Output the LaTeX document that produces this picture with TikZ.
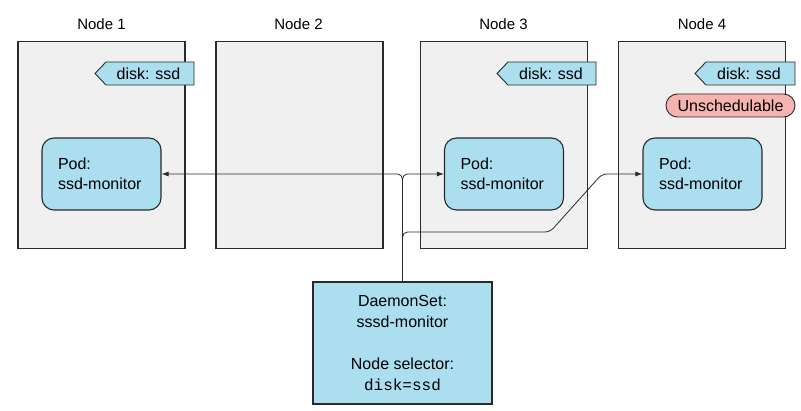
\documentclass[tikz,border=0pt]{standalone}
\usepackage{fontspec}
\setmainfont{Liberation Sans}
\setmonofont{Liberation Mono}
\usetikzlibrary{arrows.meta}
\definecolor{nodegray}{HTML}{F0F0F0}
\definecolor{podblue}{HTML}{ABDFF0}
\definecolor{pinkfill}{HTML}{F6B4B0}
\definecolor{edgecol}{HTML}{2A2A2A}
\begin{document}
\begin{tikzpicture}[x=1pt,y=-1pt,
  font=\fontsize{16}{20}\selectfont,
  machine/.style={draw=edgecol, line width=1.1pt, fill=nodegray, minimum width=167pt, minimum height=207pt, inner sep=0pt},
  title/.style={inner sep=0pt, font=\fontsize{15}{18}\selectfont},
  tagshape/.style={draw=edgecol, line width=0.9pt, fill=podblue},
  tagtext/.style={inner sep=0pt},
  podbox/.style={draw=edgecol, line width=1.1pt, fill=podblue, rounded corners=12pt, minimum width=119pt, minimum height=72pt, text width=87pt, align=left, inner xsep=16pt},
  unsched/.style={draw=edgecol, line width=0.9pt, fill=pinkfill, rounded corners=11.5pt, minimum width=129pt, minimum height=23pt, inner sep=0pt},
  dsbox/.style={draw=edgecol, line width=1.1pt, fill=podblue, minimum width=179pt, minimum height=122pt, align=center, inner sep=0pt, font=\fontsize{16}{21}\selectfont},
  conn/.style={draw=edgecol, line width=0.8pt, rounded corners=5pt},
  arr/.style={conn, -{Latex[length=7pt,width=5pt]}}
]
\useasboundingbox (0,0) rectangle (801,411);

% machines
\node[machine] (n1) at (101.5,145) {};
\node[machine] (n2) at (299.5,145) {};
\node[machine] (n3) at (504,145) {};
\node[machine] (n4) at (702,145) {};

\node[title] (t1) at (101.5,24) {Node 1};
\node[title] (t2) at (298.5,24) {Node 2};
\node[title] (t3) at (503.5,24) {Node 3};
\node[title] (t4) at (702,24) {Node 4};

% tags
\draw[tagshape] (95,73.5) -- (106,62) -- (194,62) -- (194,85) -- (106,85) -- cycle;
\node[tagtext] (g1) at (148.5,73.5) {disk: ssd};
\draw[tagshape] (497,73.5) -- (508,62) -- (596,62) -- (596,85) -- (508,85) -- cycle;
\node[tagtext] (g3) at (551,73.5) {disk: ssd};
\draw[tagshape] (695,73.5) -- (706,62) -- (795,62) -- (795,85) -- (706,85) -- cycle;
\node[tagtext] (g4) at (749,73.5) {disk: ssd};

\node[unsched] (u4) at (730.5,105.5) {Unschedulable};

% pods
\node[podbox] (p1) at (101.5,174) {Pod:\\ssd-monitor};
\node[podbox] (p3) at (504,174) {Pod:\\ssd-monitor};
\node[podbox] (p4) at (702.5,174) {Pod:\\ssd-monitor};

% daemonset
\node[dsbox] (ds) at (402.5,343) {DaemonSet:\\sssd-monitor\\[21pt]Node selector:\\{\ttfamily disk=ssd}};

\coordinate (b1) at (550,232);
\coordinate (b2) at (602,174);

% connectors
\draw[arr] (ds.north) |- (p1.east);
\draw[arr] (ds.north) |- (p3.west);
\draw[arr] (ds.north) |- (b1) -- (b2) -- (p4.west);
\end{tikzpicture}
\end{document}
